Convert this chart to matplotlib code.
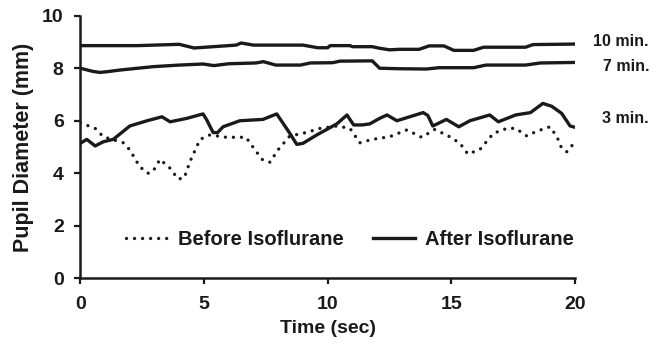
import matplotlib
matplotlib.use("Agg")
import matplotlib.pyplot as plt

plt.rcParams['font.family'] = ['Liberation Sans', 'DejaVu Sans']

# 10 min (after isoflurane)
t_10 = [0, 2.3, 4.0, 4.6, 6.3, 6.5, 7.0, 9.0, 9.6, 10.0, 10.1, 10.9, 11.0, 11.8,
        12.1, 12.5, 12.9, 13.7, 14.1, 14.7, 15.1, 15.9, 16.3, 18.0, 18.3, 20]
v_10 = [8.86, 8.86, 8.91, 8.77, 8.88, 8.96, 8.88, 8.88, 8.78, 8.78, 8.86, 8.86, 8.82, 8.82,
        8.76, 8.70, 8.72, 8.72, 8.85, 8.85, 8.68, 8.68, 8.80, 8.80, 8.90, 8.92]

# 7 min
t_7 = [0, 0.5, 0.8, 1.1, 1.6, 2.95, 4.0, 4.96, 5.4, 6.0, 7.1, 7.4, 7.9, 8.9, 9.3,
       10.2, 10.5, 11.8, 12.1, 12.9, 14.0, 14.5, 15.9, 16.4, 18.0, 18.6, 20]
v_7 = [8.0, 7.88, 7.84, 7.87, 7.93, 8.06, 8.12, 8.16, 8.1, 8.17, 8.2, 8.25, 8.12, 8.12, 8.2,
       8.21, 8.27, 8.28, 8.0, 7.98, 7.97, 8.02, 8.02, 8.12, 8.12, 8.2, 8.22]

# 3 min (after isoflurane)
t_3 = [0, 0.26, 0.6, 0.93, 1.33, 2.0, 2.7, 3.3, 3.63, 4.3, 4.96, 5.1, 5.37, 5.55, 5.77,
       6.45, 7.38, 7.94, 8.47, 8.75, 9.0, 9.56, 10.37, 10.78, 11.05, 11.4, 11.7, 12.1,
       12.4, 12.8, 13.86, 14.05, 14.25, 14.8, 15.3, 15.75, 16.55, 16.9, 17.6, 18.2,
       18.7, 19.06, 19.46, 19.8, 20]
v_3 = [5.14, 5.29, 5.04, 5.2, 5.29, 5.8, 6.0, 6.15, 5.96, 6.09, 6.26, 6.05, 5.55, 5.55, 5.77,
       6.0, 6.05, 6.26, 5.52, 5.1, 5.14, 5.46, 5.88, 6.22, 5.84, 5.84, 5.88, 6.09,
       6.22, 6.0, 6.31, 6.2, 5.8, 6.05, 5.77, 6.0, 6.22, 5.96, 6.22, 6.31,
       6.66, 6.55, 6.28, 5.8, 5.75]

# Before isoflurane
t_before = [0, 0.6, 0.93, 1.74, 2.0, 2.4, 2.73, 2.93, 3.22, 3.63, 3.95, 4.2, 4.43, 4.84,
            5.24, 5.9, 6.7, 7.06, 7.38, 7.67, 7.99, 8.47, 9.0, 9.7, 10.37, 10.9, 11.3,
            11.8, 12.5, 13.2, 13.8, 14.33, 14.94, 15.35, 15.67, 16.16, 16.7, 17.25, 17.6,
            18.05, 18.45, 18.99, 19.27, 19.46, 19.67, 19.9]
v_before = [5.92, 5.71, 5.39, 5.16, 4.89, 4.25, 4.0, 4.06, 4.53, 4.19, 3.78, 3.82, 4.44, 5.29,
            5.46, 5.37, 5.37, 4.89, 4.5, 4.42, 4.89, 5.42, 5.52, 5.71, 5.8, 5.71, 5.16,
            5.29, 5.39, 5.65, 5.37, 5.67, 5.39, 5.14, 4.73, 4.91, 5.52, 5.71, 5.71,
            5.42, 5.6, 5.77, 5.39, 4.95, 4.82, 5.08]

x_ticks = [0, 5, 10, 15, 20]
y_ticks = [0, 2, 4, 6, 8, 10]

fig = plt.figure(figsize=(6.65, 3.45), dpi=100)
ax = fig.add_axes([0.1208, 0.1933, 0.7439, 0.7612])

c = '#1a1a1a'
ax.plot(t_before, v_before, color=c, lw=2.4, linestyle=(0, (0.01, 2.4)),
        dash_capstyle='round', label='Before Isoflurane')
ax.plot(t_3, v_3, color=c, lw=2.4, label='After Isoflurane')
ax.plot(t_7, v_7, color=c, lw=2.4)
ax.plot(t_10, v_10, color=c, lw=2.4)

ax.set_xlim(0, 20)
ax.set_ylim(0, 10)
ax.set_xticks(x_ticks)
ax.set_yticks(y_ticks)
for s in ['top', 'right']:
    ax.spines[s].set_visible(False)
for s in ['left', 'bottom']:
    ax.spines[s].set_linewidth(1.8)
    ax.spines[s].set_color(c)
ax.tick_params(axis='both', width=1.6, length=4, color=c, labelsize=14)
ax.tick_params(axis='x', pad=9)
ax.tick_params(axis='y', pad=8)
for lab in ax.get_xticklabels() + ax.get_yticklabels():
    lab.set_fontweight('bold')
    lab.set_color(c)

ax.set_xlabel('Time (sec)', fontsize=14, fontweight='bold', color=c, labelpad=5)
ax.set_ylabel('Pupil Diameter (mm)', fontsize=15.5, fontweight='bold', color=c, labelpad=6)

leg = ax.legend(loc='center', bbox_to_anchor=(0.545, 0.146), ncol=2, frameon=False,
                prop={'weight': 'bold', 'size': 14.5}, handlelength=2.05,
                handletextpad=0.5, columnspacing=1.5, labelcolor=c,
                borderpad=0, borderaxespad=0)

ax.text(1.036, 9.0, '10 min.', transform=ax.get_yaxis_transform(), fontsize=11.5,
        fontweight='bold', color=c, va='center', ha='left')
ax.text(1.056, 8.06, '7 min.', transform=ax.get_yaxis_transform(), fontsize=11.5,
        fontweight='bold', color=c, va='center', ha='left')
ax.text(1.054, 6.09, '3 min.', transform=ax.get_yaxis_transform(), fontsize=11.5,
        fontweight='bold', color=c, va='center', ha='left')

fig.savefig('out.png', dpi=100)
